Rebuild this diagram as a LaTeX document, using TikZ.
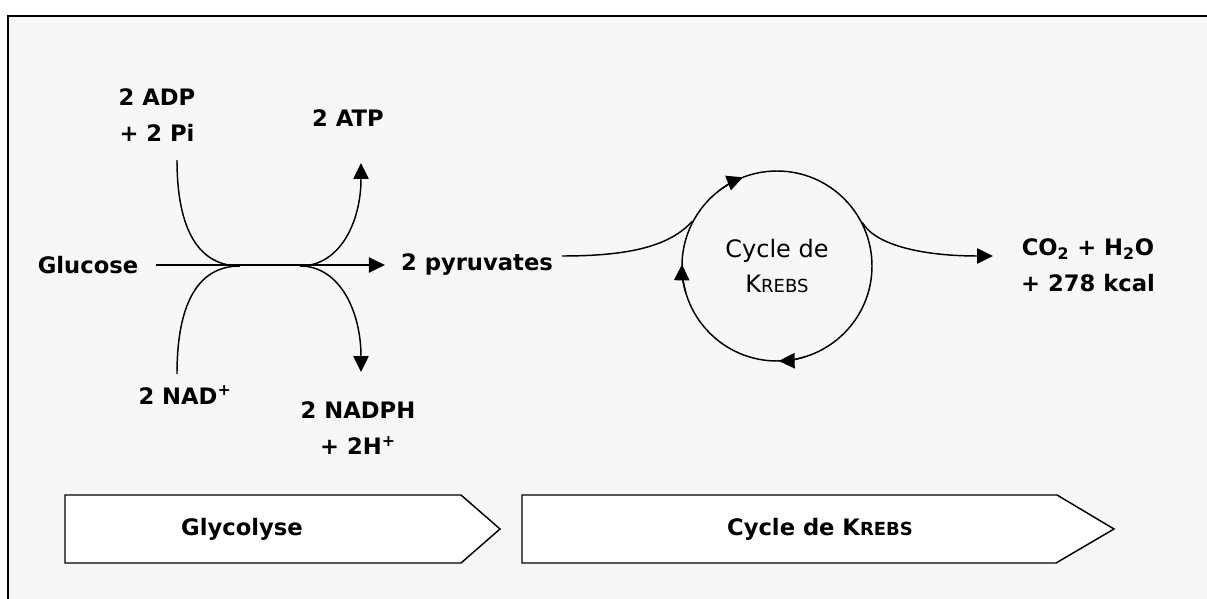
\documentclass[tikz,border=0pt]{standalone}
\usepackage{fontspec}
\setmainfont{DejaVu Sans}
\usetikzlibrary{arrows.meta}
\tikzset{
  lbl/.style={font=\bfseries\fontsize{17}{27}\selectfont, align=center, inner sep=1pt},
  cyc/.style={font=\fontsize{18}{26}\selectfont, align=center},
  flow/.style={line width=1.1pt},
  tip/.style={-{Triangle[length=12pt,width=11.5pt]}},
  bar/.style={line width=1.1pt, fill=white},
}
\newcommand{\krebs}{K{\fontsize{13.5}{16}\selectfont REBS}}

\begin{document}
\begin{tikzpicture}[x=0.75pt,y=-0.75pt]
			%%%%% FRAME %%%%%
			\useasboundingbox (0,0) rectangle (1207,599);
			\fill[black!3] (8,16) rectangle (1207,599);
			\draw[line width=1.6pt] (8,599) -- (8,16) -- (1207,16);
			
			%%%%% GLYCOLYSE %%%%%
			\node[lbl] (glucose) at (88,265) {Glucose};
			\node[lbl] (pyr) at (477,265) {2 pyruvates};
			\node[lbl] (adp) at (157,115) {2 ADP\\+ 2 Pi};
			\node[lbl] (atp) at (348,118) {2 ATP};
			\node[lbl] (nad) at (185,395) {2 NAD\textsuperscript{+}};
			\node[lbl] (nadph) at (358,428) {2 NADPH\\+ 2H\textsuperscript{+}};
			
			\coordinate (m1) at (240,266);
			\coordinate (m2) at (300,266);
			\coordinate (adpout) at (177,160);
			\coordinate (nadout) at (177,374);
			\coordinate (atpin) at (361,163);
			\coordinate (nadphin) at (361,372);
			
			\draw[flow,tip,shorten <=12pt,shorten >=11pt] (glucose.east) -- (pyr.west);
			\draw[flow] (adpout) .. controls (177,232) and (200,266) .. (m1);
			\draw[flow] (nadout) .. controls (177,300) and (200,266) .. (m1);
			\draw[flow,tip] (m2) .. controls (340,266) and (361,222) .. (atpin);
			\draw[flow,tip] (m2) .. controls (340,266) and (361,312) .. (nadphin);
			
			%%%%% KREBS %%%%%
			\node[draw, circle, line width=1.1pt, minimum size=142.5pt, cyc] (krebs) at (777,266) {Cycle de\\\krebs};
			\node[lbl] (co2) at (1088,265) {CO\textsubscript{2} + H\textsubscript{2}O\\+ 278 kcal};
			\coordinate (pyrout) at (562,256);
			\coordinate (co2in) at (993,256);
			
			\draw[flow] (pyrout) .. controls (630,256) and (670,246) .. (krebs.152.4);
			\draw[flow,tip] (krebs.27.4) .. controls (876,246) and (925,256) .. (co2in);
			
			\draw[flow,tip] (krebs.center) ++(-127:95) arc (-127:-111:95);
			\draw[flow,tip] (krebs.center) ++(164:95) arc (164:181:95);
			\draw[flow,tip] (krebs.center) ++(73:95) arc (73:89:95);
			
			%%%%% BARS %%%%%
			\draw[bar] (65,495) -- (461,495) -- (500,529) -- (461,563) -- (65,563) -- cycle;
			\node[lbl] (glyco) at (242,529) {Glycolyse};
			\draw[bar] (522,495) -- (1057,495) -- (1114,529) -- (1056,563) -- (522,563) -- cycle;
			\node[lbl] (cyclebar) at (820,529) {Cycle de \krebs};
			
			%%%%% END %%%%%
		\end{tikzpicture}
\end{document}
